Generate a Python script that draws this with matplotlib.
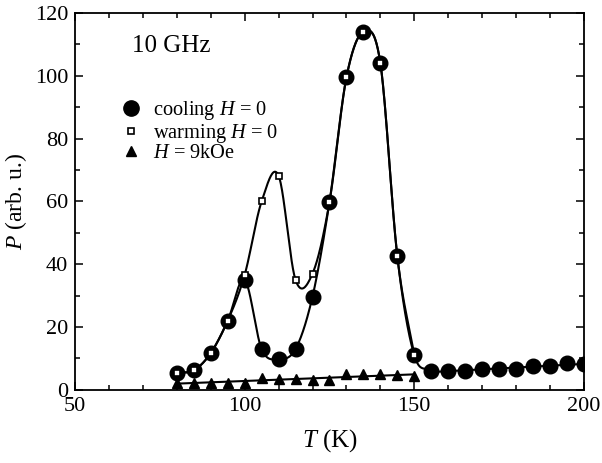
import numpy as np
import matplotlib
matplotlib.use('Agg')
import matplotlib.pyplot as plt
from matplotlib.lines import Line2D
from matplotlib.ticker import MultipleLocator

plt.rcParams['font.family'] = ['Liberation Serif', 'DejaVu Serif']
plt.rcParams['mathtext.fontset'] = 'custom'
plt.rcParams['mathtext.rm'] = 'Liberation Serif'
plt.rcParams['mathtext.it'] = 'Liberation Serif:italic'

# --- data ---
T_cool = [80, 85, 90, 95, 100, 105, 110, 115, 120, 125, 130, 135, 140, 145, 150,
          155, 160, 165, 170, 175, 180, 185, 190, 195, 200]
P_cool = [5.5, 6.2, 11.7, 22.0, 35.0, 13.0, 9.8, 13.0, 29.7, 59.8, 99.5, 114.0, 104.0, 42.5, 11.0,
          6.0, 6.0, 6.0, 6.6, 6.7, 6.5, 7.6, 7.5, 8.4, 8.3]

T_warm = [80, 85, 90, 95, 100, 105, 110, 115, 120, 125, 130, 135, 140, 145, 150]
P_warm = [5.5, 6.2, 11.7, 22.0, 36.6, 60.0, 68.2, 35.0, 37.0, 59.8, 99.5, 114.0, 104.0, 42.5, 11.0]

T_field = [80, 85, 90, 95, 100, 105, 110, 115, 120, 125, 130, 135, 140, 145, 150]
P_field = [2.3, 2.3, 2.3, 2.3, 2.3, 3.8, 3.3, 3.3, 3.0, 3.0, 4.9, 4.9, 4.9, 4.7, 4.5]


def smooth(x, y, n=40):
    # cubic hermite through the points (guide to the eye)
    x = np.asarray(x, float)
    y = np.asarray(y, float)
    m = np.gradient(y, x)
    t = np.linspace(0, 1, n)
    h00 = 2 * t**3 - 3 * t**2 + 1
    h10 = t**3 - 2 * t**2 + t
    h01 = -2 * t**3 + 3 * t**2
    h11 = t**3 - t**2
    xs, ys = [], []
    for i in range(len(x) - 1):
        h = x[i + 1] - x[i]
        xs.append(x[i] + t * h)
        ys.append(h00 * y[i] + h10 * h * m[i] + h01 * y[i + 1] + h11 * h * m[i + 1])
    return np.concatenate(xs), np.concatenate(ys)


fig = plt.figure(figsize=(6.02, 4.63), dpi=100)
ax = fig.add_axes([0.1246, 0.158, 0.8454, 0.814])

lw = 1.5
# cooling curve: smooth through the peaks, straight line through the tail
k = T_cool.index(155)
xc, yc = smooth(T_cool[:k + 1], P_cool[:k + 1])
ax.plot(xc, yc, color='black', lw=lw, zorder=2)
fit = np.polyfit(T_cool[k:], P_cool[k:], 1)
xt = np.array([T_cool[k], T_cool[-1]])
ax.plot(xt, np.polyval(fit, xt), color='black', lw=lw, zorder=2)

xw, yw = smooth(T_warm, P_warm)
ax.plot(xw, yw, color='black', lw=lw, zorder=2)

fit_f = np.polyfit(T_field, P_field, 1)
xf = np.array([T_field[0], T_field[-1]])
ax.plot(xf, np.polyval(fit_f, xf), color='black', lw=lw, zorder=2)

ax.plot(T_field, P_field, linestyle='none', marker='^', ms=7.5,
        color='black', zorder=3)
ax.plot(T_cool, P_cool, linestyle='none', marker='o', ms=10.5,
        color='black', zorder=4)
ax.plot(T_warm, P_warm, linestyle='none', marker='s', ms=4.8,
        mfc='white', mec='black', mew=1.2, zorder=5)

ax.set_xlim(50, 200)
ax.set_ylim(0, 120)
ax.xaxis.set_major_locator(MultipleLocator(50))
ax.xaxis.set_minor_locator(MultipleLocator(10))
ax.yaxis.set_major_locator(MultipleLocator(20))
ax.yaxis.set_minor_locator(MultipleLocator(10))
ax.tick_params(which='both', direction='in', top=True, right=True,
               labelsize=16, width=1.1)
ax.tick_params(which='major', length=6, pad=5)
ax.tick_params(which='minor', length=3.5)
for s in ax.spines.values():
    s.set_linewidth(1.3)

ax.set_xlabel('$T$ (K)', fontsize=18, labelpad=8)
ax.set_ylabel('$P$ (arb. u.)', fontsize=17, labelpad=4)

ax.text(66.7, 107.7, '10 GHz', fontsize=18)

handles = [
    Line2D([], [], linestyle='none', marker='o', ms=11, color='black'),
    Line2D([], [], linestyle='none', marker='s', ms=4.8, mfc='white', mec='black', mew=1.2),
    Line2D([], [], linestyle='none', marker='^', ms=7.5, color='black'),
]
labels = ['cooling $H$ = 0', 'warming $H$ = 0', '$H$ = 9kOe']
ax.legend(handles, labels, frameon=False, loc='upper left',
          bbox_to_anchor=(0.093, 0.771), fontsize=14.7, handlelength=0.8,
          handletextpad=0.7, labelspacing=-0.03, borderpad=0, borderaxespad=0)

fig.savefig('out.png', dpi=100)
